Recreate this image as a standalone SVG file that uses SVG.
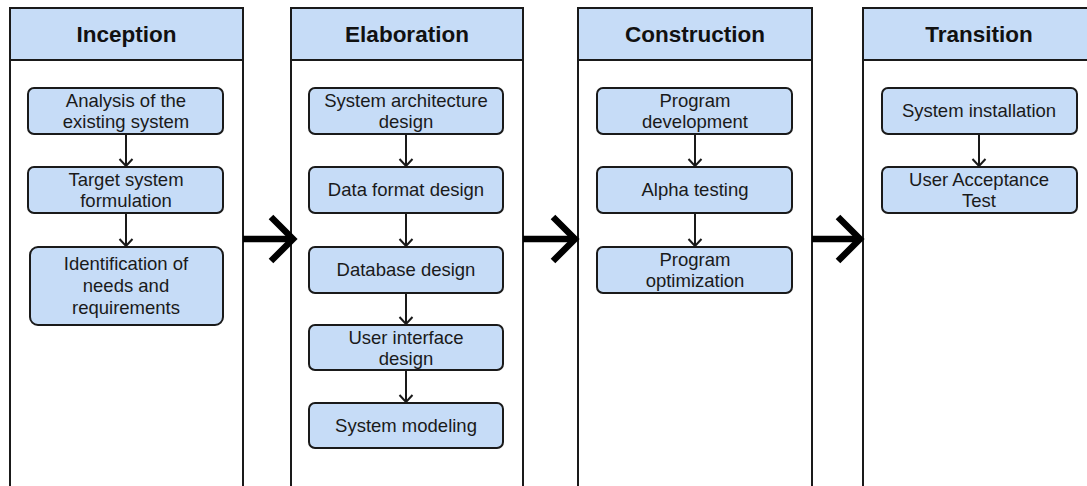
<svg xmlns="http://www.w3.org/2000/svg" width="1087" height="486" viewBox="0 0 1087 486">
  <style>
    .lane { fill: #ffffff; stroke: #1a1a1a; stroke-width: 2; }
    .head { fill: #c6dcf7; stroke: #1a1a1a; stroke-width: 2; }
    .title { font-family: "Liberation Sans", Arial, sans-serif; font-weight: bold; font-size: 22.5px; fill: #111; text-anchor: middle; }
    .node rect { fill: #c6dcf7; stroke: #1a1a1a; stroke-width: 2; }
    .label { font-family: "Liberation Sans", Arial, sans-serif; font-size: 18.5px; fill: #1a1a1a; text-anchor: middle; }
    .flow { fill: none; stroke: #1a1a1a; stroke-width: 2; }
    .big { fill: none; stroke: #000; stroke-width: 6.5; stroke-linejoin: miter; }
  </style>
  <defs>
    <marker id="open" viewBox="0 0 10 16" refX="8.5" refY="8" markerWidth="10" markerHeight="16" markerUnits="userSpaceOnUse" orient="auto">
      <path d="M1.5,1.5 L8.5,8 L1.5,14.5" fill="none" stroke="#1a1a1a" stroke-width="2"/>
    </marker>
  </defs>
  <rect width="1087" height="486" fill="#ffffff"/>

  <!-- phase lanes -->
  <g id="lane-inception">
    <rect class="lane" x="10" y="8" width="233" height="490"/>
    <rect class="head" x="10" y="8" width="233" height="52"/>
    <text class="title" x="126.5" y="42">Inception</text>
  </g>
  <g id="lane-elaboration">
    <rect class="lane" x="291" y="8" width="232" height="490"/>
    <rect class="head" x="291" y="8" width="232" height="52"/>
    <text class="title" x="407" y="42">Elaboration</text>
  </g>
  <g id="lane-construction">
    <rect class="lane" x="578" y="8" width="234" height="490"/>
    <rect class="head" x="578" y="8" width="234" height="52"/>
    <text class="title" x="695" y="42">Construction</text>
  </g>
  <g id="lane-transition">
    <rect class="lane" x="863" y="8" width="232" height="490"/>
    <rect class="head" x="863" y="8" width="232" height="52"/>
    <text class="title" x="979" y="42">Transition</text>
  </g>

  <!-- Inception steps -->
  <g id="analysis" class="node">
    <rect x="28" y="88" width="195" height="46" rx="6"/>
    <text class="label" x="126" y="107"><tspan x="126">Analysis of the</tspan><tspan x="126" dy="21">existing system</tspan></text>
  </g>
  <g id="target" class="node">
    <rect x="28" y="167" width="195" height="46" rx="6"/>
    <text class="label" x="126" y="186"><tspan x="126">Target system</tspan><tspan x="126" dy="21">formulation</tspan></text>
  </g>
  <g id="needs" class="node">
    <rect x="30" y="247" width="193" height="78" rx="8"/>
    <text class="label" x="126" y="270"><tspan x="126">Identification of</tspan><tspan x="126" dy="22">needs and</tspan><tspan x="126" dy="22">requirements</tspan></text>
  </g>

  <!-- Elaboration steps -->
  <g id="architecture" class="node">
    <rect x="309" y="88" width="194" height="46" rx="6"/>
    <text class="label" x="406" y="107"><tspan x="406">System architecture</tspan><tspan x="406" dy="21">design</tspan></text>
  </g>
  <g id="data-format" class="node">
    <rect x="309" y="167" width="194" height="46" rx="6"/>
    <text class="label" x="406" y="196">Data format design</text>
  </g>
  <g id="database" class="node">
    <rect x="309" y="247" width="194" height="46" rx="6"/>
    <text class="label" x="406" y="276">Database design</text>
  </g>
  <g id="user-interface" class="node">
    <rect x="309" y="325" width="194" height="45" rx="6"/>
    <text class="label" x="406" y="344"><tspan x="406">User interface</tspan><tspan x="406" dy="21">design</tspan></text>
  </g>
  <g id="modeling" class="node">
    <rect x="309" y="403" width="194" height="45" rx="6"/>
    <text class="label" x="406" y="432">System modeling</text>
  </g>

  <!-- Construction steps -->
  <g id="development" class="node">
    <rect x="597" y="88" width="195" height="46" rx="6"/>
    <text class="label" x="695" y="107"><tspan x="695">Program</tspan><tspan x="695" dy="21">development</tspan></text>
  </g>
  <g id="alpha" class="node">
    <rect x="597" y="167" width="195" height="46" rx="6"/>
    <text class="label" x="695" y="196">Alpha testing</text>
  </g>
  <g id="optimization" class="node">
    <rect x="597" y="247" width="195" height="46" rx="6"/>
    <text class="label" x="695" y="266"><tspan x="695">Program</tspan><tspan x="695" dy="21">optimization</tspan></text>
  </g>

  <!-- Transition steps -->
  <g id="installation" class="node">
    <rect x="882" y="88" width="195" height="46" rx="6"/>
    <text class="label" x="979" y="117">System installation</text>
  </g>
  <g id="acceptance" class="node">
    <rect x="882" y="167" width="195" height="46" rx="6"/>
    <text class="label" x="979" y="186"><tspan x="979">User Acceptance</tspan><tspan x="979" dy="21">Test</tspan></text>
  </g>

  <!-- connectors -->
  <g id="connectors">
    <line class="flow" x1="126" y1="134" x2="126" y2="166" marker-end="url(#open)"/>
    <line class="flow" x1="126" y1="213" x2="126" y2="246" marker-end="url(#open)"/>

    <line class="flow" x1="406" y1="134" x2="406" y2="166" marker-end="url(#open)"/>
    <line class="flow" x1="406" y1="213" x2="406" y2="246" marker-end="url(#open)"/>
    <line class="flow" x1="406" y1="293" x2="406" y2="324" marker-end="url(#open)"/>
    <line class="flow" x1="406" y1="370" x2="406" y2="402" marker-end="url(#open)"/>

    <line class="flow" x1="695" y1="134" x2="695" y2="166" marker-end="url(#open)"/>
    <line class="flow" x1="695" y1="213" x2="695" y2="246" marker-end="url(#open)"/>

    <line class="flow" x1="979" y1="134" x2="979" y2="166" marker-end="url(#open)"/>

    <!-- phase transitions -->
    <line class="big" x1="243" y1="239" x2="292" y2="239"/>
    <polyline class="big" points="271,217 293,239 271,261"/>
    <line class="big" x1="523" y1="239" x2="574" y2="239"/>
    <polyline class="big" points="553,217 575,239 553,261"/>
    <line class="big" x1="812" y1="239" x2="859" y2="239"/>
    <polyline class="big" points="838,217 860,239 838,261"/>
  </g>
</svg>
